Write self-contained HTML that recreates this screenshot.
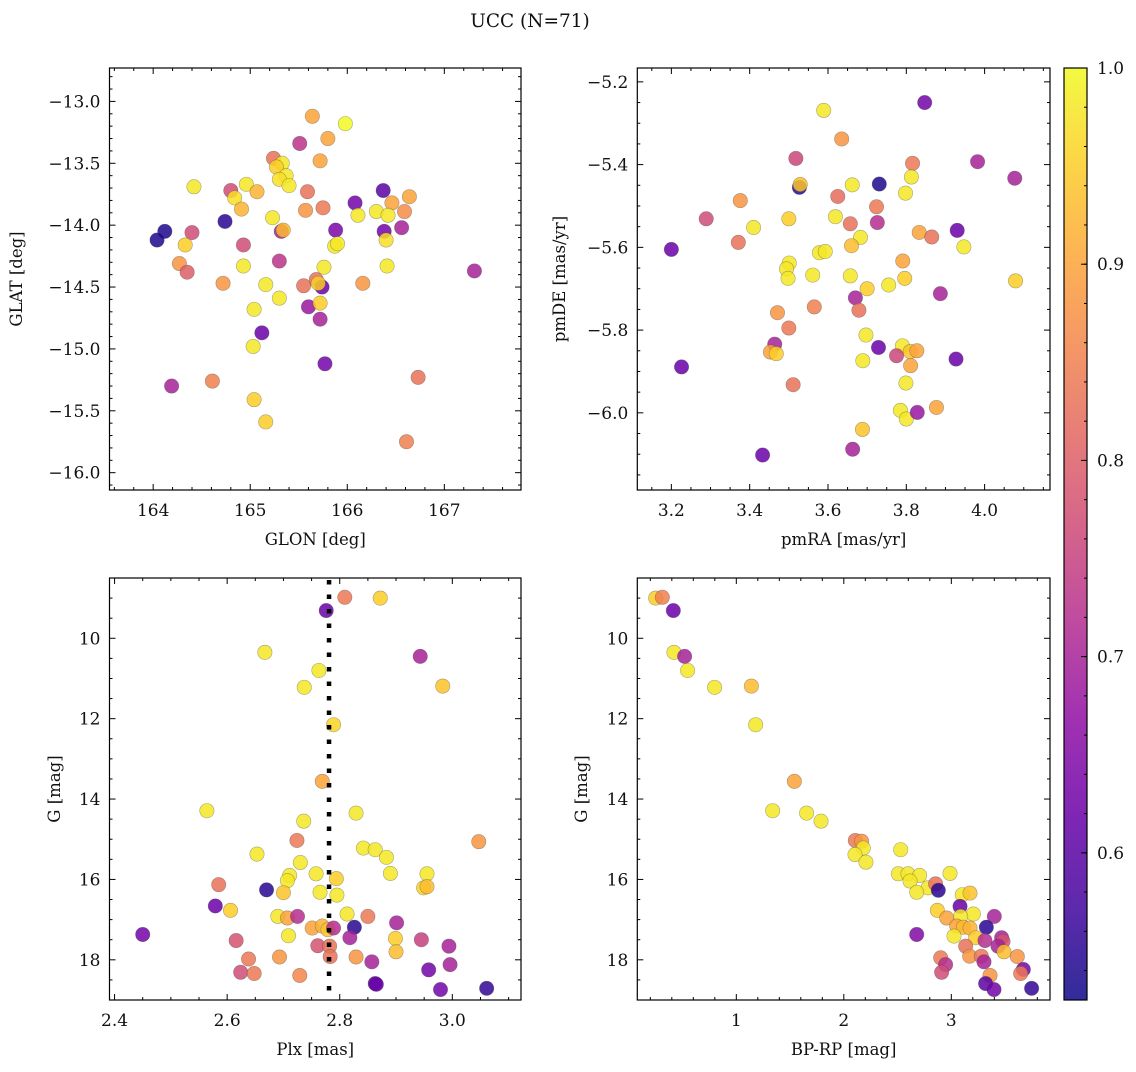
<!DOCTYPE html>
<html><head><meta charset="utf-8">
<style>
html,body{margin:0;padding:0;background:#fff;}
svg text{font-family:"DejaVu Serif","Liberation Serif",serif;fill:#111;}
</style></head>
<body>
<svg id="fig" width="1136" height="1067" viewBox="0 0 1136 1067" xmlns="http://www.w3.org/2000/svg">
<text x="530" y="27" font-size="18.5" text-anchor="middle">UCC (N=71)</text>
</svg>
<script>
// ---- data ----
const p1Glon=[165.64,165.98,165.80,165.51,165.24,165.33,165.27,165.72,165.37,165.30,165.40,164.42,164.80,164.96,164.84,165.07,164.91,165.59,165.57,165.75,166.37,166.08,166.46,166.64,166.59,166.11,166.30,166.42,165.23,164.74,164.12,164.04,164.40,164.33,165.32,165.34,165.88,166.38,166.40,166.56,165.87,165.90,164.93,164.27,164.35,164.93,165.30,165.76,166.41,167.31,164.72,165.16,165.55,165.68,165.74,165.70,166.16,165.30,165.04,165.60,165.72,165.72,165.12,165.03,165.77,164.19,164.61,166.73,165.04,165.16,166.61];
const p1Glat=[-13.12,-13.18,-13.30,-13.34,-13.46,-13.50,-13.53,-13.48,-13.60,-13.63,-13.68,-13.69,-13.72,-13.67,-13.78,-13.73,-13.87,-13.73,-13.88,-13.86,-13.72,-13.82,-13.82,-13.77,-13.89,-13.92,-13.89,-13.92,-13.94,-13.97,-14.05,-14.12,-14.06,-14.16,-14.05,-14.04,-14.04,-14.05,-14.12,-14.02,-14.17,-14.15,-14.16,-14.31,-14.38,-14.33,-14.29,-14.34,-14.33,-14.37,-14.47,-14.48,-14.49,-14.44,-14.50,-14.47,-14.47,-14.59,-14.68,-14.66,-14.63,-14.76,-14.87,-14.98,-15.12,-15.30,-15.26,-15.23,-15.41,-15.59,-15.75];
const p1Prob=[0.9,1.0,0.9,0.73,0.83,0.98,0.95,0.9,0.98,0.97,0.98,0.98,0.77,0.98,0.97,0.92,0.92,0.83,0.88,0.84,0.6,0.63,0.9,0.9,0.87,0.98,0.98,0.98,0.98,0.55,0.54,0.54,0.77,0.95,0.7,0.93,0.64,0.63,0.97,0.7,0.98,0.98,0.77,0.88,0.8,0.98,0.73,0.98,0.98,0.7,0.88,0.98,0.83,0.83,0.62,0.95,0.88,0.98,0.98,0.68,0.95,0.7,0.62,0.98,0.63,0.7,0.85,0.83,0.95,0.95,0.85];

const p2Pmra=[3.847,3.589,3.635,3.518,3.816,3.982,4.077,3.527,3.529,3.662,3.731,3.813,3.798,3.376,3.625,3.724,3.289,3.500,3.619,3.657,3.726,3.410,3.833,3.865,3.930,3.947,3.200,3.371,3.683,3.660,3.578,3.593,3.791,3.501,3.494,3.498,3.561,3.657,3.796,4.079,3.755,3.700,3.887,3.670,3.565,3.679,3.471,3.500,3.697,3.729,3.464,3.453,3.468,3.790,3.810,3.827,3.775,3.689,3.811,3.927,3.226,3.799,3.511,3.785,3.800,3.828,3.877,3.688,3.663,3.433];
const p2Pmde=[-5.250,-5.269,-5.338,-5.385,-5.397,-5.393,-5.433,-5.455,-5.448,-5.449,-5.447,-5.430,-5.469,-5.487,-5.477,-5.502,-5.531,-5.531,-5.526,-5.543,-5.540,-5.552,-5.564,-5.575,-5.559,-5.599,-5.605,-5.588,-5.576,-5.596,-5.613,-5.610,-5.633,-5.638,-5.652,-5.675,-5.667,-5.669,-5.675,-5.681,-5.691,-5.700,-5.712,-5.722,-5.744,-5.752,-5.758,-5.795,-5.812,-5.842,-5.834,-5.853,-5.857,-5.838,-5.852,-5.850,-5.862,-5.874,-5.886,-5.870,-5.889,-5.928,-5.932,-5.994,-6.015,-5.999,-5.987,-6.040,-6.088,-6.102];
const p2Prob=[0.63,0.98,0.88,0.76,0.84,0.7,0.7,0.55,0.94,0.98,0.54,0.98,0.98,0.88,0.82,0.84,0.77,0.95,0.98,0.83,0.72,0.98,0.9,0.83,0.62,0.98,0.62,0.83,0.98,0.93,0.98,0.98,0.9,0.98,0.98,0.98,0.98,0.98,0.95,0.95,0.98,0.95,0.7,0.7,0.85,0.83,0.88,0.84,0.98,0.62,0.7,0.9,0.95,0.98,0.94,0.9,0.76,0.98,0.9,0.62,0.62,0.98,0.83,0.98,0.98,0.68,0.9,0.94,0.7,0.62];

const p3Plx=[2.809,2.872,2.776,2.667,2.943,2.763,2.737,2.983,2.789,2.769,2.564,2.829,2.736,2.724,3.047,2.653,2.842,2.863,2.883,2.730,2.711,2.758,2.890,2.955,2.794,2.707,2.585,2.670,2.700,2.765,2.795,2.949,2.955,2.579,2.606,2.690,2.707,2.725,2.813,2.850,2.901,2.751,2.769,2.779,2.789,2.826,2.450,2.709,2.818,2.899,2.616,2.945,2.994,2.761,2.782,2.783,2.693,2.829,2.900,2.638,2.857,2.996,2.958,2.624,2.648,2.729,2.863,2.865,2.979,3.061];
const p3G=[8.98,9.00,9.31,10.35,10.45,10.80,11.22,11.19,12.15,13.56,14.29,14.35,14.55,15.03,15.06,15.37,15.22,15.26,15.45,15.58,15.90,15.86,15.85,15.86,15.98,16.03,16.13,16.26,16.33,16.32,16.39,16.21,16.18,16.66,16.77,16.92,16.96,16.92,16.86,16.92,17.08,17.21,17.16,17.25,17.21,17.19,17.37,17.40,17.45,17.47,17.52,17.50,17.66,17.65,17.66,17.92,17.93,17.93,17.80,17.98,18.05,18.12,18.25,18.31,18.34,18.39,18.59,18.61,18.74,18.71];
const p3Prob=[0.84,0.95,0.62,0.98,0.7,0.98,0.98,0.94,0.96,0.9,0.98,0.98,0.98,0.84,0.88,0.98,0.98,0.98,0.98,0.98,0.98,0.98,0.98,0.98,0.95,0.98,0.83,0.55,0.94,0.98,0.98,0.96,0.93,0.62,0.95,0.98,0.9,0.72,0.98,0.84,0.7,0.9,0.92,0.94,0.72,0.55,0.63,0.98,0.7,0.95,0.78,0.75,0.7,0.78,0.83,0.83,0.88,0.88,0.93,0.84,0.7,0.7,0.63,0.77,0.84,0.86,0.6,0.62,0.63,0.56];
const p3PlxRef=[2.781];

const p4Bprp=[0.250,0.312,0.414,0.420,0.519,0.547,0.798,1.140,1.180,1.540,1.338,1.654,1.788,2.107,2.166,2.529,2.181,2.104,2.206,2.988,2.507,2.597,2.705,2.616,2.783,2.678,2.854,2.879,3.102,3.174,3.081,2.870,3.205,3.087,2.957,3.400,3.050,3.112,3.174,3.326,2.678,3.025,3.226,3.313,3.468,3.481,3.434,3.490,3.133,3.171,3.279,3.614,3.304,2.901,2.947,2.910,3.670,3.645,3.360,3.319,3.397,3.747];
const p4G=[9.00,8.98,9.31,10.35,10.45,10.80,11.22,11.19,12.15,13.56,14.29,14.35,14.55,15.03,15.05,15.26,15.22,15.38,15.57,15.85,15.86,15.86,15.90,16.04,16.21,16.32,16.11,16.27,16.38,16.34,16.67,16.77,16.86,16.92,16.96,16.92,17.16,17.19,17.21,17.19,17.37,17.41,17.45,17.52,17.45,17.54,17.66,17.80,17.66,17.91,17.91,17.92,18.05,17.95,18.12,18.31,18.24,18.34,18.39,18.59,18.74,18.71];
const p4Prob=[0.95,0.85,0.62,0.98,0.7,0.98,0.98,0.93,0.98,0.9,0.98,0.98,0.98,0.84,0.88,0.98,0.98,0.98,0.98,0.98,0.98,0.98,0.98,0.98,0.98,0.98,0.83,0.55,0.98,0.94,0.62,0.95,0.98,0.98,0.9,0.7,0.9,0.93,0.92,0.55,0.65,0.98,0.95,0.72,0.7,0.78,0.7,0.93,0.83,0.88,0.84,0.88,0.7,0.84,0.72,0.77,0.63,0.84,0.88,0.6,0.63,0.56];

const p1XTicks=[164,165,166,167], p1YTicks=[-13.0,-13.5,-14.0,-14.5,-15.0,-15.5,-16.0];
const p2XTicks=[3.2,3.4,3.6,3.8,4.0], p2YTicks=[-5.2,-5.4,-5.6,-5.8,-6.0];
const p3XTicks=[2.4,2.6,2.8,3.0], gTicks=[10,12,14,16,18];
const p4XTicks=[1,2,3];
const cbTicks=[0.6,0.7,0.8,0.9,1.0];
const vMin=0.525, vMax=1.0;

// ---- plasma colormap ----
const plasma=["#0d0887","#41049d","#6a00a8","#8f0da4","#b12a90","#cc4778","#e16462","#f2844b","#fca636","#fcce25","#f0f921"];
function hex(h){return [parseInt(h.substr(1,2),16),parseInt(h.substr(3,2),16),parseInt(h.substr(5,2),16)];}
function cmap(v){let t=(v-vMin)/(vMax-vMin);t=Math.max(0,Math.min(1,t));const f=t*10,i=Math.min(9,Math.floor(f)),r=f-i;const a=hex(plasma[i]),b=hex(plasma[i+1]);return "rgb("+a.map((c,k)=>Math.round(c+(b[k]-c)*r)).join(",")+")";}

const NS="http://www.w3.org/2000/svg";
const svg=document.getElementById("fig");
function mk(tag,attrs,parent){const e=document.createElementNS(NS,tag);for(const k in attrs)e.setAttribute(k,attrs[k]);(parent||svg).appendChild(e);return e;}
function lin(d0,d1,r0,r1){return v=>r0+(v-d0)*(r1-r0)/(d1-d0);}
function fmt(v,dec){return (v<0?"\u2212":"")+Math.abs(v).toFixed(dec);}

function panel(o){
  const g=mk("g",{});
  
  
  const sx=lin(o.xd[0],o.xd[1],o.L,o.R), sy=lin(o.yd[0],o.yd[1],o.T,o.B);
  const tk=mk("g",{stroke:"#000","stroke-width":1},g);
  
  
  const eps=1e-9;
  for(let v=Math.ceil(o.xd[0]/o.xMinor)*o.xMinor; v<=o.xd[1]+eps; v+=o.xMinor){
    const x=sx(v); const maj=o.xTicks.some(t=>Math.abs(t-v)<o.xMinor/3); const len=maj?6:3;
    mk("line",{x1:x,x2:x,y1:o.B,y2:o.B-len},tk); mk("line",{x1:x,x2:x,y1:o.T,y2:o.T+len},tk);
  }
  const ylo=Math.min(o.yd[0],o.yd[1]), yhi=Math.max(o.yd[0],o.yd[1]);
  for(let v=Math.ceil(ylo/o.yMinor)*o.yMinor; v<=yhi+eps; v+=o.yMinor){
    const y=sy(v); const maj=o.yTicks.some(t=>Math.abs(t-v)<o.yMinor/3); const len=maj?6:3;
    mk("line",{x1:o.L,x2:o.L+len,y1:y,y2:y},tk); mk("line",{x1:o.R,x2:o.R-len,y1:y,y2:y},tk);
  }
  o.xTicks.forEach(v=>{const t=mk("text",{x:sx(v),y:o.B+26,"font-size":17,"text-anchor":"middle"},g);t.textContent=fmt(v,o.xDec);
    
    });
  o.yTicks.forEach(v=>{const t=mk("text",{x:o.L-9,y:sy(v)+6,"font-size":17,"text-anchor":"end"},g);t.textContent=fmt(v,o.yDec);
    
    });
  const xl=mk("text",{x:(o.L+o.R)/2,y:o.B+55,"font-size":16.5,"text-anchor":"middle"},g);xl.textContent=o.xLabel;
  
  
  const yx=o.yLabelX, yy=(o.T+o.B)/2;
  const yl=mk("text",{x:yx,y:yy,"font-size":16.5,"text-anchor":"middle",transform:"rotate(-90 "+yx+" "+yy+")"},g);yl.textContent=o.yLabel;
  
  
  const pts=mk("g",{},g);
  
  
  o.xs.forEach((xv,i)=>{
    const c=mk("circle",{cx:sx(xv),cy:sy(o.ys[i]),r:7.2,fill:cmap(o.ps[i]),"fill-opacity":0.85,stroke:"#444","stroke-opacity":0.45,"stroke-width":0.6},pts);
    
    
  });
  if(o.vline){o.vline.forEach(v=>{const ln=mk("line",{x1:sx(v),x2:sx(v),y1:o.T+2,y2:o.B,stroke:"#000","stroke-width":4.5,"stroke-dasharray":"4.5 10"},g);
    
    });}
  const fr=mk("rect",{x:o.L,y:o.T,width:o.R-o.L,height:o.B-o.T,fill:"none",stroke:"#000","stroke-width":1.2},g);
  
  
}

panel({name:"glon-glat-panel",L:109.5,R:521,T:68,B:490,xd:[163.55,167.79],yd:[-12.73,-16.14],xTicks:p1XTicks,yTicks:p1YTicks,xMinor:0.2,yMinor:0.1,xDec:0,yDec:1,xLabel:"GLON [deg]",yLabel:"GLAT [deg]",yLabelX:22,xs:p1Glon,ys:p1Glat,ps:p1Prob});
panel({name:"pm-panel",L:637.3,R:1050,T:68,B:490,xd:[3.113,4.167],yd:[-5.1665,-6.1865],xTicks:p2XTicks,yTicks:p2YTicks,xMinor:0.05,yMinor:0.05,xDec:1,yDec:1,xLabel:"pmRA [mas/yr]",yLabel:"pmDE [mas/yr]",yLabelX:565,xs:p2Pmra,ys:p2Pmde,ps:p2Prob});
panel({name:"plx-g-panel",L:109.5,R:521,T:578,B:1000,xd:[2.391,3.122],yd:[8.50,19.0],xTicks:p3XTicks,yTicks:gTicks,xMinor:0.05,yMinor:0.5,xDec:1,yDec:0,xLabel:"Plx [mas]",yLabel:"G [mag]",yLabelX:60,xs:p3Plx,ys:p3G,ps:p3Prob,vline:p3PlxRef});
panel({name:"cmd-panel",L:637.3,R:1050,T:578,B:1000,xd:[0.079,3.918],yd:[8.50,19.0],xTicks:p4XTicks,yTicks:gTicks,xMinor:0.2,yMinor:0.5,xDec:0,yDec:0,xLabel:"BP-RP [mag]",yLabel:"G [mag]",yLabelX:587,xs:p4Bprp,ys:p4G,ps:p4Prob});

// ---- colorbar ----
(function(){
  const L=1064,R=1087,T=68,B=1000;
  const g=mk("g",{});
  
  
  const defs=mk("defs",{},g);
  const lg=mk("linearGradient",{id:"plasmaGrad",x1:0,y1:1,x2:0,y2:0},defs);
  plasma.forEach((c,i)=>mk("stop",{offset:(i*10)+"%","stop-color":c},lg));
  const r=mk("rect",{x:L,y:T,width:R-L,height:B-T,fill:"url(#plasmaGrad)","fill-opacity":0.85,stroke:"#000","stroke-width":1.2},g);
  
  
  const sy=lin(vMin,vMax,B,T);
  for(let v=0.54; v<=1.0001; v+=0.02){const y=sy(v);mk("line",{x1:R,x2:R-3,y1:y,y2:y,stroke:"#000","stroke-width":1},g);}
  cbTicks.forEach(v=>{const y=sy(v);mk("line",{x1:R,x2:R-6,y1:y,y2:y,stroke:"#000","stroke-width":1},g);
    const t=mk("text",{x:R+10,y:y+6,"font-size":17},g);t.textContent=v.toFixed(1);
    
    });
})();
</script>
</body></html>
